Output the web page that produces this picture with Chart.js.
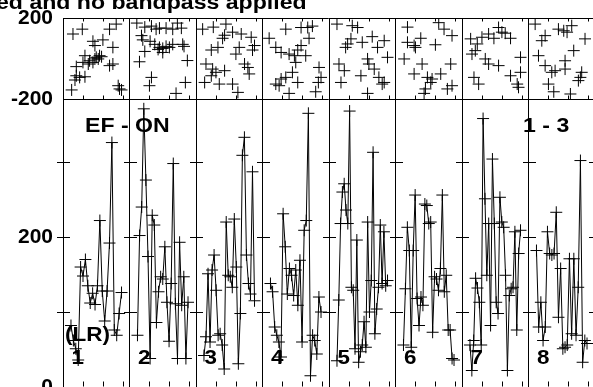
<!DOCTYPE html>
<html>
<head>
<meta charset="utf-8">
<script src="https://cdn.jsdelivr.net/npm/chart.js@4"></script>
<style>
  html, body { margin: 0; padding: 0; background: #fff; }
  canvas { display: block; }
</style>
</head>
<body>
<canvas id="myChart" width="593" height="387"></canvas>
<script>
// panel names written at the foot of each strip
const panelNames = ['1', '2', '3', '4', '5', '6', '7', '8'];
const topTickLabels = [-200, 200];
const bottomTickLabels = [0, 200];

// lower strip: one trace per panel, samples evenly spaced inside the panel
const traces = [
  [82, 62, 51, 36, 160, 148, 170, 135, 112, 125, 110, 135, 222, 128, 88, 128, 192, 326, 76, 69, 98, 126],
  [69, 202, 240, 371, 276, 174, 38, 229, 216, 86, 127, 147, 144, 187, 113, 61, 138, 298, 111, 38, 193, 109, 147, 38, 113],
  [42, 67, 151, 60, 156, 176, 129, 69, 71, 56, 24, 220, 149, 147, 133, 224, 160, 31, 98, 309, 333, 176, 138, 124, 287, 115],
  [138, 127, 80, 69, 60, 40, 231, 187, 124, 158, 149, 122, 156, 109, 169, 60, 209, 222, 365, 15, 69, 62, 44, 120, 100],
  [35, 116, 218, 260, 271, 236, 218, 368, 133, 129, 51, 196, 33, 47, 56, 87, 53, 220, 100, 142, 313, 71, 104, 133, 216, 138, 207, 135, 142],
  [56, 131, 213, 182, 53, 182, 256, 118, 82, 120, 109, 244, 242, 218, 220, 73, 147, 144, 129, 158, 256, 127, 149, 76, 76, 38, 36],
  [56, 22, 62, 145, 132, 113, 56, 358, 251, 149, 218, 82, 304, 218, 113, 98, 253, 220, 213, 149, 22, 122, 131, 133, 207, 76, 178, 209],
  [182, 80, 113, 62, 80, 207, 178, 176, 178, 233, 93, 158, 51, 53, 56, 171, 71, 171, 69, 133, 302, 33, 62, 58]
];
const traceStart = 0.12;
const traceEnd = 0.88;

// upper strip: scattered points, x as fraction of the panel
const scatterX = [
  [0.15, 0.29, 0.45, 0.48, 0.60, 0.70, 0.80, 0.75, 0.33, 0.40, 0.50, 0.55, 0.53, 0.58, 0.38, 0.20, 0.20, 0.25, 0.33, 0.45, 0.70, 0.75, 0.13, 0.83, 0.85, 0.88, 0.30, 0.48, 0.18],
  [0.11, 0.23, 0.33, 0.40, 0.45, 0.55, 0.65, 0.72, 0.78, 0.18, 0.20, 0.31, 0.38, 0.45, 0.50, 0.55, 0.60, 0.65, 0.80, 0.82, 0.23, 0.43, 0.50, 0.87, 0.15, 0.33, 0.30, 0.70, 0.84],
  [0.10, 0.26, 0.45, 0.43, 0.40, 0.55, 0.68, 0.83, 0.88, 0.85, 0.65, 0.60, 0.33, 0.23, 0.15, 0.25, 0.30, 0.43, 0.23, 0.13, 0.35, 0.55, 0.63, 0.73, 0.78, 0.80],
  [0.10, 0.35, 0.58, 0.68, 0.75, 0.70, 0.20, 0.28, 0.40, 0.48, 0.53, 0.58, 0.65, 0.50, 0.45, 0.35, 0.28, 0.20, 0.25, 0.40, 0.53, 0.80, 0.84, 0.88, 0.85],
  [0.12, 0.35, 0.43, 0.28, 0.25, 0.33, 0.50, 0.65, 0.73, 0.83, 0.88, 0.58, 0.60, 0.15, 0.23, 0.18, 0.48, 0.68, 0.75, 0.80, 0.83, 0.58],
  [0.18, 0.65, 0.73, 0.85, 0.18, 0.28, 0.38, 0.30, 0.60, 0.13, 0.40, 0.28, 0.48, 0.53, 0.55, 0.68, 0.83, 0.85, 0.78, 0.43, 0.45],
  [0.13, 0.23, 0.20, 0.15, 0.30, 0.40, 0.48, 0.55, 0.60, 0.65, 0.73, 0.88, 0.35, 0.40, 0.55, 0.18, 0.25, 0.73, 0.88, 0.83, 0.85],
  [0.10, 0.45, 0.53, 0.65, 0.25, 0.20, 0.58, 0.85, 0.68, 0.15, 0.25, 0.40, 0.35, 0.55, 0.55, 0.80, 0.78, 0.75, 0.30, 0.38, 0.63]
];
const scatterY = [
  [121, 145, 85, 64, 92, 145, 170, 55, 14, -11, 6, 14, -2, 9, -27, -40, -85, -93, -90, -19, -35, -27, -155, -134, -150, -155, -19, -2, -106],
  [175, 155, 160, 145, 150, 150, 145, 175, 150, 113, 92, 85, 70, 55, 50, 60, 55, 70, 70, 60, 35, 45, 30, -10, -16, -93, -134, -172, -118],
  [145, 155, 170, 115, 100, 130, 121, 105, 64, 42, 55, 22, 55, 42, -27, -52, -68, -60, -85, -118, -126, -126, -167, -27, -44, -76],
  [100, 145, 153, 153, 160, 100, 55, 30, 22, 14, 42, 64, 14, -19, -68, -93, -101, -126, -134, -172, -118, -164, -118, -93, -44],
  [170, 162, 153, 72, 55, 97, 80, 108, 55, 88, 6, -2, -27, -27, -60, -118, -85, -52, -93, -126, -118, -172],
  [155, 177, 145, 113, 80, 64, 100, 55, 68, -2, -27, -76, -93, -118, -101, -76, -27, -134, -150, -172, -150],
  [97, 72, 39, 22, 105, 121, 100, 153, 130, 125, 100, 6, -2, -27, -35, -93, -126, -85, -68, -126, -142],
  [170, 145, 137, 162, 113, 88, 130, 97, 39, 14, -35, -60, -68, -11, -52, -68, -93, -109, -126, -164, -175]
];

const fontFamily = '"Liberation Sans", Arial, Helvetica, sans-serif';
const panelWidthPx = 66.5;
const leftPx = 63;

let datasets = [];
for (let p = 0; p < traces.length; p++) {
  let n = traces[p].length;
  let pts = traces[p].map((v, j) => ({ x: p + traceStart + j * (traceEnd - traceStart) / (n - 1), y: v }));
  datasets.push({
    type: 'line',
    data: pts,
    yAxisID: 'yBot',
    borderColor: '#000',
    borderWidth: 1,
    tension: 0,
    pointStyle: 'cross',
    pointRadius: 6,
    pointBorderColor: '#000',
    pointBorderWidth: 1
  });
}
for (let p = 0; p < scatterX.length; p++) {
  datasets.push({
    type: 'scatter',
    data: scatterX[p].map((f, j) => ({ x: p + f, y: scatterY[p][j] })),
    yAxisID: 'yTop',
    showLine: false,
    pointStyle: 'cross',
    pointRadius: 6,
    pointBorderColor: '#000',
    pointBorderWidth: 1
  });
}

function stretchText(ctx, text, x, y, sx) {
  ctx.save();
  ctx.translate(x, y);
  ctx.scale(sx, 1);
  ctx.fillText(text, 0, 0);
  ctx.restore();
}

const decorations = {
  id: 'decorations',
  afterDatasetsDraw(chart) {
    const { ctx, chartArea, scales } = chart;
    const sx = scales.x, yt = scales.yTop, yb = scales.yBot;
    ctx.save();
    ctx.strokeStyle = '#000';
    ctx.lineWidth = 1;
    ctx.beginPath();
    const yTopEdge = Math.round(yt.getPixelForValue(200)) + 0.5;
    const ySplit = Math.round(yt.getPixelForValue(-200)) + 0.5;
    const yBottomEdge = Math.round(chartArea.bottom) - 0.5;
    for (let i = 0; i <= 8; i++) {
      for (const f of [0.3, 0.6, 0.9]) {
        const px = Math.round(sx.getPixelForValue(i + f)) + 0.5;
        ctx.moveTo(px, yTopEdge); ctx.lineTo(px, yTopEdge + 3);
        ctx.moveTo(px, ySplit); ctx.lineTo(px, ySplit - 4);
        ctx.moveTo(px, yBottomEdge); ctx.lineTo(px, yBottomEdge - 5);
      }
      const dx = Math.round(sx.getPixelForValue(i)) + 0.5;
      for (const v of [100, 200, 300]) {
        const py = Math.round(yb.getPixelForValue(v)) + 0.5;
        ctx.moveTo(dx - 6.5, py); ctx.lineTo(dx + 6.5, py);
      }
    }
    ctx.stroke();

    ctx.fillStyle = '#000';
    ctx.textBaseline = 'alphabetic';
    ctx.font = 'bold 21px ' + fontFamily;
    stretchText(ctx, 'ed and no bandpass applied', -4, 9, 1.1);
    stretchText(ctx, 'EF - ON', 85, 131.5, 1.1);
    stretchText(ctx, '1 - 3', 523, 131.5, 1.1);
    stretchText(ctx, '(LR)', 65, 341, 1.07);
    ctx.font = 'bold 20px ' + fontFamily;
    for (let i = 0; i < panelNames.length; i++) {
      stretchText(ctx, panelNames[i], sx.getPixelForValue(i) + 8.5, 364, 1.12);
    }
    ctx.restore();
  }
};

function fixWidth(axis) {
  axis.width = leftPx;
  axis.paddingTop = 0;
  axis.paddingBottom = 0;
}

new Chart(document.getElementById('myChart'), {
  data: { datasets: datasets },
  plugins: [decorations],
  options: {
    responsive: false,
    animation: false,
    events: [],
    layout: { autoPadding: false, padding: { top: 18, left: 0, right: 0, bottom: 0 } },
    plugins: { legend: { display: false }, tooltip: { enabled: false }, title: { display: false } },
    scales: {
      x: {
        type: 'linear',
        min: 0,
        max: (593 - leftPx) / panelWidthPx,
        ticks: { display: false, stepSize: 1, includeBounds: false },
        grid: { color: '#000', lineWidth: 1, drawTicks: false },
        border: { color: '#000' }
      },
      yBot: {
        type: 'linear',
        position: 'left',
        stack: 'strips',
        stackWeight: 287.7,
        min: 0,
        max: 384,
        afterFit: fixWidth,
        ticks: {
          stepSize: 100,
          includeBounds: false,
          padding: 10,
          color: '#000',
          font: { family: fontFamily, size: 21, weight: 'bold' },
          callback: v => bottomTickLabels.includes(v) ? String(v) : ''
        },
        grid: { display: false, drawTicks: false },
        border: { color: '#000' }
      },
      yTop: {
        type: 'linear',
        position: 'left',
        stack: 'strips',
        stackWeight: 81,
        min: -200,
        max: 200,
        afterFit: fixWidth,
        ticks: {
          stepSize: 200,
          padding: 10,
          color: '#000',
          font: { family: fontFamily, size: 21, weight: 'bold' },
          callback: v => topTickLabels.includes(v) ? String(v) : ''
        },
        grid: { color: '#000', lineWidth: 1, drawTicks: false },
        border: { color: '#000' }
      }
    }
  }
});
</script>
</body>
</html>
